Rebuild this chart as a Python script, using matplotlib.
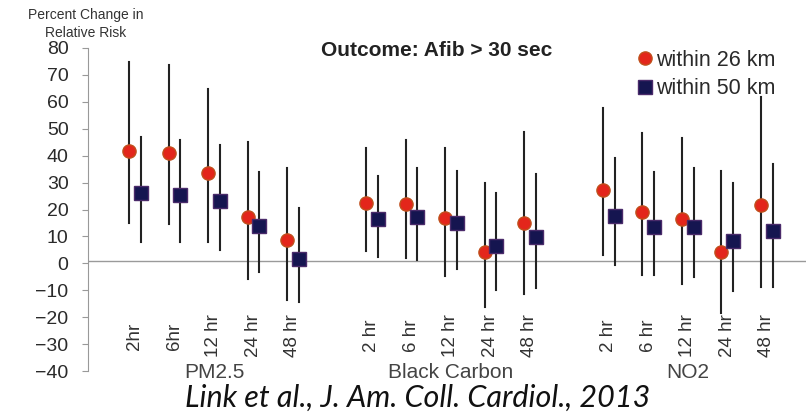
import matplotlib
matplotlib.use("Agg")
import matplotlib.pyplot as plt

plt.rcParams["font.family"] = ["Liberation Sans", "DejaVu Sans"]

pollutants = ["PM2.5", "Black Carbon", "NO2"]
lag_labels = [
    ["2hr", "6hr", "12 hr", "24 hr", "48 hr"],
    ["2 hr", "6 hr", "12 hr", "24 hr", "48 hr"],
    ["2 hr", "6 hr", "12 hr", "24 hr", "48 hr"],
]

# within 26 km (red circles)
near_est = [41.7, 41.1, 33.4, 17.3, 8.5,
            22.3, 22.0, 16.7, 4.3, 15.1,
            27.2, 19.2, 16.3, 4.3, 21.7]
near_lo = [15.1, 14.6, 7.9, -5.9, -13.6,
           4.7, 1.9, -4.7, -16.1, -11.4,
           3.1, -4.3, -7.8, -18.6, -8.9]
near_hi = [74.8, 73.7, 64.6, 45.2, 35.5,
           42.9, 45.8, 42.8, 29.9, 48.9,
           57.6, 48.3, 46.7, 34.3, 61.9]

# within 50 km (navy squares)
far_est = [26.0, 25.4, 23.0, 14.0, 1.5,
           16.3, 17.1, 14.9, 6.4, 9.9,
           17.7, 13.4, 13.6, 8.3, 12.0]
far_lo = [7.8, 7.9, 4.9, -3.1, -14.3,
          2.2, 1.2, -2.2, -9.9, -9.3,
          -0.6, -4.3, -5.0, -10.3, -8.7]
far_hi = [46.9, 46.0, 43.8, 34.0, 20.4,
          32.4, 35.5, 34.3, 26.0, 33.2,
          39.0, 34.0, 35.3, 29.9, 36.8]

# x positions: 5 lags per pollutant, one empty slot between pollutants
xs = [g * 6 + j for g in range(len(pollutants)) for j in range(5)]
off = 0.3

fig = plt.figure(figsize=(8.06, 4.18), dpi=100)
ax = fig.add_axes([88 / 806, 1 - 371 / 418, 1 - 88 / 806, 323 / 418])

for x, lo, hi in zip(xs, near_lo, near_hi):
    ax.plot([x, x], [lo, hi], color="#222222", lw=1.5, zorder=2)
for x, lo, hi in zip(xs, far_lo, far_hi):
    ax.plot([x + off, x + off], [lo, hi], color="#222222", lw=1.5, zorder=2)

ax.plot(xs, near_est, "o", ms=9.5, color="#e3261b", mec="#c0501c", mew=1,
        ls="none", zorder=3, label="within 26 km")
ax.plot([x + off for x in xs], far_est, "s", ms=9.5, color="#151550",
        mec="#4a2a6a", mew=1, ls="none", zorder=3, label="within 50 km")

ax.axhline(1, color="#9a9a9a", lw=1, zorder=1)

ax.set_xlim(-1.04, 17.14)
ax.set_ylim(-40, 80)
ax.set_yticks(range(-40, 81, 10))
ax.tick_params(axis="y", direction="out", length=4, width=0.8, color="#999999",
               labelsize=14, labelcolor="#2a2a2a", pad=10)
ax.set_xticks([])
for s in ["top", "right", "bottom"]:
    ax.spines[s].set_visible(False)
ax.spines["left"].set_color("#999999")
ax.spines["left"].set_linewidth(0.8)

# lag labels inside the plot area, rotated
k = 0
for g, labels in enumerate(lag_labels):
    for lab in labels:
        ax.text(xs[k] + 0.15, -27, lab, rotation=90, ha="center", va="center",
                fontsize=13.5, color="#333333")
        k += 1
    ax.text(xs[g * 5 + 2] + 0.15, -0.005, pollutants[g],
            transform=ax.get_xaxis_transform(), ha="center", va="center",
            fontsize=15, color="#444444")

ax.text(437 / 806, 1 - 50 / 418, "Outcome: Afib > 30 sec", transform=fig.transFigure,
        ha="center", va="center", fontsize=15, fontweight="bold", color="#222222")
fig.text(86 / 806, 1 - 24 / 418, "Percent Change in\nRelative Risk", ha="center",
         va="center", fontsize=10, color="#333333", linespacing=1.3)

ax.legend(loc="upper left", bbox_to_anchor=(639 / 806, 1 - 50 / 418),
          bbox_transform=fig.transFigure, frameon=False, fontsize=15.5,
          handlelength=0.6, handletextpad=0.2, labelspacing=0.34,
          borderpad=0, borderaxespad=0, labelcolor="#2a2a2a")

fig.text(418 / 806, 1 - 398 / 418, "Link et al., J. Am. Coll. Cardiol., 2013",
         ha="center", va="center", fontsize=22, style="italic",
         family=["Lato", "DejaVu Sans"], color="#111111")

plt.savefig("out.png", dpi=100)
plt.close()
